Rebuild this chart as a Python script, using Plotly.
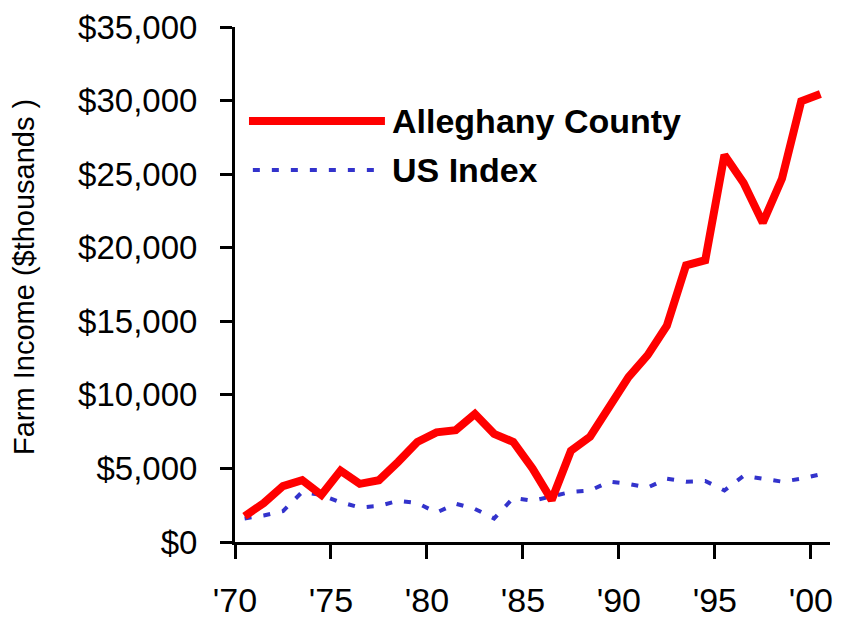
import plotly.graph_objects as go

years = list(range(1970, 2001))
alleghany = [1750, 2650, 3800, 4200, 3200, 4850, 3950, 4200, 5450, 6800,
             7450, 7600, 8700, 7350, 6800, 5000, 2850, 6200, 7150, 9300,
             11200, 12700, 14700, 18800, 19150, 26300, 24400, 21700, 24700, 29950,
             30450]
us_index = [1600, 1800, 2100, 3400, 3200, 2700, 2350, 2450, 2800, 2650,
            2000, 2600, 2250, 1600, 3000, 2800, 3100, 3400, 3500, 4100,
            3950, 3700, 4300, 4100, 4150, 3500, 4500, 4300, 4100, 4300,
            4600]
tick_years = [1970, 1975, 1980, 1985, 1990, 1995, 2000]
tick_labels = ["'70", "'75", "'80", "'85", "'90", "'95", "'00"]
y_ticks = [0, 5000, 10000, 15000, 20000, 25000, 30000, 35000]
y_labels = ["$0", "$5,000", "$10,000", "$15,000", "$20,000", "$25,000", "$30,000", "$35,000"]
series_names = ["Alleghany County", "US Index"]
y_title = "Farm Income ($thousands )"

FONT = "Liberation Sans, Arial, sans-serif"
RED = "#FF0000"
BLUE = "#3333CC"

fig = go.Figure()
fig.add_trace(go.Scatter(x=years, y=us_index, mode="lines", name=series_names[1],
                         line=dict(color=BLUE, width=4, dash="7px,12px"),
                         showlegend=False))
fig.add_trace(go.Scatter(x=years, y=alleghany, mode="lines", name=series_names[0],
                         line=dict(color=RED, width=8), showlegend=False))

# manual legend (long line samples like the original)
fig.add_shape(type="line", xref="paper", yref="paper", x0=0.0235, x1=0.252,
              y0=0.8175, y1=0.8175, line=dict(color=RED, width=8))
fig.add_shape(type="line", xref="paper", yref="paper", x0=0.030, x1=0.235,
              y0=0.7223, y1=0.7223, line=dict(color=BLUE, width=4, dash="7px,12px"))
fig.add_annotation(xref="paper", yref="paper", x=0.2605, y=0.8175, xanchor="left",
                   yanchor="middle", text="<b>%s</b>" % series_names[0], showarrow=False,
                   font=dict(family=FONT, size=34, color="black"))
fig.add_annotation(xref="paper", yref="paper", x=0.2605, y=0.7223, xanchor="left",
                   yanchor="middle", text="<b>%s</b>" % series_names[1], showarrow=False,
                   font=dict(family=FONT, size=34, color="black"))
# y-axis title
fig.add_annotation(xref="paper", yref="paper", x=-0.3546, y=0.5146, xanchor="center",
                   yanchor="middle", text=y_title, textangle=-90, showarrow=False,
                   font=dict(family=FONT, size=29, color="black"))

# page body has an 8px margin, so the figure is 8px smaller than the window
fig.update_layout(
    width=833, height=610,
    margin=dict(l=227, r=11, t=19, b=76),
    paper_bgcolor="white", plot_bgcolor="white",
    font=dict(family=FONT, color="black"),
    xaxis=dict(range=[1969.5, 2000.5], tickmode="array",
               tickvals=[y - 0.5 for y in tick_years], ticktext=tick_labels,
               showgrid=False, zeroline=False, showline=True, linecolor="black",
               linewidth=3, ticks="outside", ticklen=14, tickwidth=3, tickcolor="black",
               tickfont=dict(size=34, family=FONT), ticklabelstandoff=12,
               ticklabeloverflow="allow", automargin=False),
    yaxis=dict(range=[0, 35000], tickmode="array", tickvals=y_ticks, ticktext=y_labels,
               showgrid=False, zeroline=False, showline=True, linecolor="black",
               linewidth=3, ticks="outside", ticklen=12, tickwidth=3, tickcolor="black",
               tickfont=dict(size=33, family=FONT), ticklabelstandoff=16,
               ticklabeloverflow="allow", automargin=False),
)

fig.write_html("out.html")
